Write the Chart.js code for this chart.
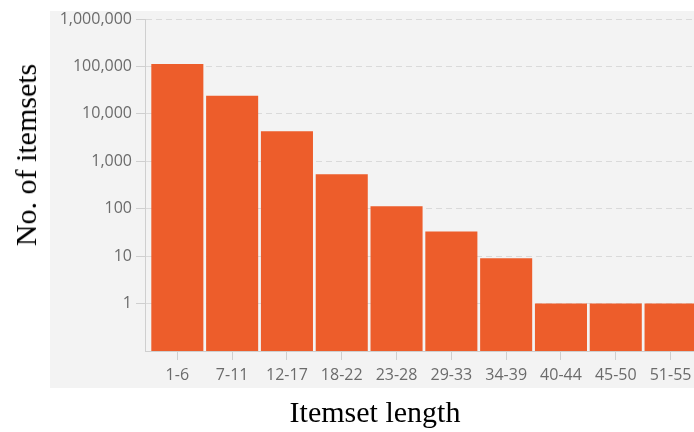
<!DOCTYPE html>
<html>
<head>
<meta charset="utf-8">
<script src="https://cdn.jsdelivr.net/npm/chart.js@4/dist/chart.umd.min.js"></script>
<style>
  html, body { margin: 0; padding: 0; background: #fff; width: 694px; height: 432px; overflow: hidden; }
  #wrap { position: relative; width: 694px; height: 432px; overflow: hidden; }
  #panel { position: absolute; left: 50px; top: 11px; width: 644px; height: 377px; background: #f3f3f3; }
  canvas { position: absolute; left: 0; top: 0; }
  .axis-title { position: absolute; font-family: "Liberation Serif", "Times New Roman", serif; font-size: 30px; line-height: 36px; color: #000; white-space: nowrap; }
  #xTitle { left: 0; width: 750px; top: 394px; text-align: center; }
  #yTitle { left: 26px; top: 155px; transform: translate(-50%, -50%) rotate(-90deg); }
</style>
</head>
<body>
<div id="wrap">
  <div id="panel"></div>
  <canvas id="chart" width="704" height="432"></canvas>
  <div class="axis-title" id="yTitle">No. of itemsets</div>
  <div class="axis-title" id="xTitle">Itemset length</div>
</div>
<script>
// itemset length buckets and how many itemsets fall in each (log scale)
const categories = ["1-6", "7-11", "12-17", "18-22", "23-28", "29-33", "34-39", "40-44", "45-50", "51-55"];
const itemsetCounts = [112000, 24000, 4300, 530, 113, 33, 9, 1, 1, 1];
const yTickValues = [1, 10, 100, 1000, 10000, 100000, 1000000];

const ctx = document.getElementById("chart").getContext("2d");
new Chart(ctx, {
  type: "bar",
  data: {
    datasets: [
      {
        data: categories.map((c, i) => ({ x: i, y: itemsetCounts[i] })),
        backgroundColor: "#ed5d2b",
        barPercentage: 0.95,
        categoryPercentage: 1,
      },
    ],
  },
  options: {
    responsive: false,
    animation: false,
    layout: { padding: { top: 19, right: 0, bottom: 0, left: 0 } },
    plugins: { legend: { display: false }, tooltip: { enabled: false } },
    scales: {
      x: {
        type: "linear",
        min: -0.59,
        max: 9.61,
        offset: false,
        afterBuildTicks: (scale) => {
          scale.ticks = categories.map((c, i) => ({ value: i }));
        },
        afterFit: (scale) => {
          scale.height = 81;
        },
        grid: { offset: false, drawOnChartArea: false, drawTicks: true, tickLength: 9, tickColor: "#cfcfcf" },
        border: { color: "#cfcfcf" },
        ticks: {
          callback: (v) => categories[v],
          font: { family: "Open Sans", size: 16 },
          color: "#6b6b6b",
          padding: 6,
          maxRotation: 0,
          autoSkip: false,
        },
      },
      y: {
        type: "logarithmic",
        min: 0.1,
        max: 1000000,
        afterBuildTicks: (scale) => {
          scale.ticks = yTickValues.map((v) => ({ value: v }));
        },
        afterFit: (scale) => {
          scale.width = 145;
        },
        grid: { color: "#dadada", tickLength: 9, tickColor: "#cfcfcf", tickBorderDash: [] },
        border: { color: "#cfcfcf", dash: [6, 4] },
        ticks: {
          callback: (v) => v.toLocaleString("en-US"),
          font: { family: "Open Sans", size: 16 },
          color: "#6b6b6b",
          padding: 4,
        },
      },
    },
  },
});
</script>
</body>
</html>
